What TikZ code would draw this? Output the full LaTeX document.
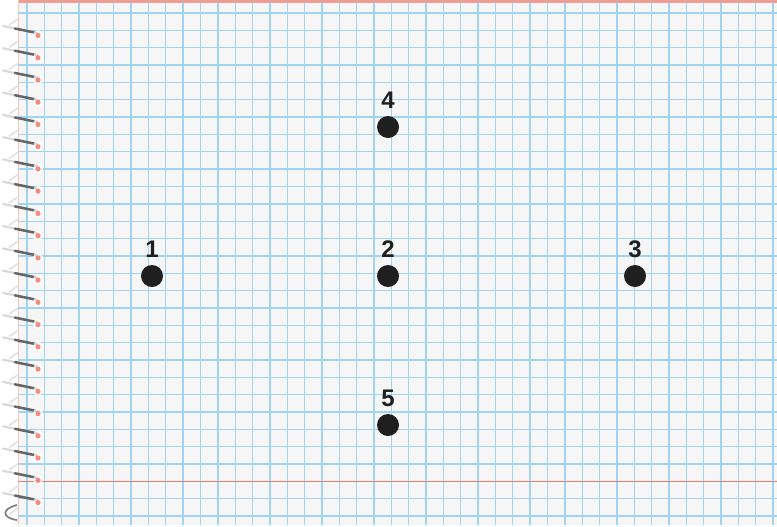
\documentclass[tikz,border=0pt]{standalone}
\usepackage{fontspec}
\setmainfont{Liberation Sans}
\usetikzlibrary{positioning}

\definecolor{sheet}{RGB}{246,246,246}
\definecolor{gridblue}{RGB}{160,212,240}
\definecolor{marginred}{RGB}{232,125,112}
\definecolor{holepink}{RGB}{242,140,125}

\begin{document}
\begin{tikzpicture}[x=0.75pt, y=-0.75pt,
    dot/.style={circle, fill=black!88, inner sep=0pt, minimum size=16.5pt},
    num/.style={font=\fontsize{18}{20}\selectfont\bfseries, text=black!88, inner sep=0pt}]
    \useasboundingbox (0,0) rectangle (777,526);
    \fill[white] (0,0) rectangle (777,526);

    % sheet of squared paper
    \fill[sheet] (18,0) rectangle (777,525);
    \fill[marginred!75] (18,0) rectangle (777,3);
    \draw[marginred!45, line width=0.75pt] (18,0) -- (18,525);

    % grid
    \foreach \i in {0,...,43}
        \draw[gridblue, line width=1pt] ({27+17.35*\i},3) -- ({27+17.35*\i},525);
    \foreach \j in {0,...,26,28,29}
        \draw[gridblue, line width=1pt] (18,{13+17.35*\j}) -- (777,{13+17.35*\j});
    \draw[marginred, line width=1.2pt] (18,481.4) -- (777,481.4);

    % spiral binding
    \foreach \k in {0,...,22}
        \draw[black!12, line width=1.1pt] (9,{25+22.24*\k}) .. controls (13,{22+22.24*\k}) .. (18,{19+22.24*\k});
    \foreach \k in {0,...,21} {
        \draw[black!15, line width=1.6pt, line cap=round] (3,{26+22.24*\k}) -- (15,{28.5+22.24*\k});
        \draw[black!60, line width=1.9pt, line cap=round] (15,{28.5+22.24*\k}) -- (37,{33+22.24*\k});
        \fill[white, opacity=0.75] (38,{35+22.24*\k}) circle (5);
        \fill[holepink] (38,{35.5+22.24*\k}) circle (2.6);
    }
    \draw[black!50, line width=1.3pt] (17,505) .. controls (1,509) and (2,518) .. (17,520);

    % points
    \node[dot] (d1) at (152,276) {};
    \node[dot] (d2) at (388,276) {};
    \node[dot] (d3) at (635,276) {};
    \node[dot] (d4) at (388,127) {};
    \node[dot] (d5) at (388,425) {};

    \node[num, above=5pt of d1] (n1) {1};
    \node[num, above=5pt of d2] (n2) {2};
    \node[num, above=5pt of d3] (n3) {3};
    \node[num, above=5pt of d4] (n4) {4};
    \node[num, above=5pt of d5] (n5) {5};
\end{tikzpicture}
\end{document}
